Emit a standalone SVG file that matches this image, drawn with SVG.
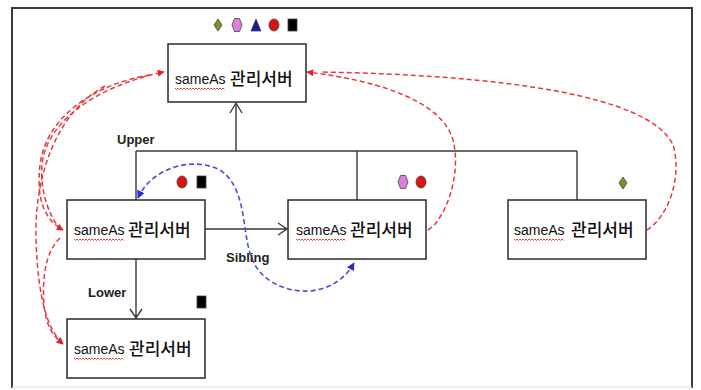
<svg xmlns="http://www.w3.org/2000/svg" xmlns:xlink="http://www.w3.org/1999/xlink" width="701" height="390" viewBox="0 0 701 390">
<style>
.box{fill:#fff;stroke:#2a2a2a;stroke-width:1.5}
.tree{fill:none;stroke:#3a3a3a;stroke-width:1.4}
.en{font-family:"Liberation Sans",Arial,sans-serif;font-size:14px;fill:#111}
.ko{font-family:"Noto Sans CJK KR","Noto Sans",sans-serif;font-size:17px;font-weight:500;fill:#111}
.lbl{font-family:"Liberation Sans",Arial,sans-serif;font-size:13px;font-weight:bold;fill:#222}
.red{fill:none;stroke:#e8383c;stroke-width:1.5;stroke-dasharray:5 3}
.blue{fill:none;stroke:#4a4ae0;stroke-width:1.6;stroke-dasharray:5 3}
.wave{fill:none;stroke:#e03030;stroke-width:0.9}
</style>
<defs>
<marker id="ar" viewBox="0 0 10 10" refX="9" refY="5" markerWidth="7" markerHeight="7" markerUnits="userSpaceOnUse" orient="auto-start-reverse"><path d="M0,0 L10,5 L0,10 z" fill="#e8202a"/></marker>
<marker id="ab" viewBox="0 0 10 10" refX="9" refY="5" markerWidth="8" markerHeight="8" markerUnits="userSpaceOnUse" orient="auto-start-reverse"><path d="M0,0 L10,5 L0,10 z" fill="#2a2ad8"/></marker>
<path id="wv" class="wave" d="M0,0 l1.5,1.5 l1.5,-1.5 l1.5,1.5 l1.5,-1.5 l1.5,1.5 l1.5,-1.5 l1.5,1.5 l1.5,-1.5 l1.5,1.5 l1.5,-1.5 l1.5,1.5 l1.5,-1.5 l1.5,1.5 l1.5,-1.5 l1.5,1.5 l1.5,-1.5 l1.5,1.5 l1.5,-1.5 l1.5,1.5 l1.5,-1.5 l1.5,1.5 l1.5,-1.5 l1.5,1.5 l1.5,-1.5 l1.5,1.5 l1.5,-1.5 l1.5,1.5 l1.5,-1.5 l1.5,1.5 l1.5,-1.5 l1.5,1.5 l1.5,-1.5 l1.5,1.5"/>
</defs>
<rect width="701" height="390" fill="#fff"/>
<g id="frame">
<path d="M12,388 L12,8 L692,8 L692,388" fill="none" stroke="#3a3a3a" stroke-width="2"/>
<line x1="12" y1="387" x2="692" y2="387" stroke="#dcdcdc" stroke-width="1"/>
</g>
<g id="connectors">
<path class="tree" d="M236,104 L236,151 M136,151 L577,151 M136,151 L136,200 M357,151 L357,200 M577,151 L577,200"/>
<path class="tree" d="M230,113 L236,103 L242,113"/>
<path class="tree" d="M205,229 L287,229 M278,223 L287,229 L278,235"/>
<path class="tree" d="M136,259 L136,318 M130,309 L136,318 L142,309"/>
<path class="red" d="M61,230 C48,215 40,190 42,165 C46,120 100,85 164,72" marker-end="url(#ar)"/>
<path class="red" d="M150,75 C90,85 45,120 40,165 C36,200 45,220 63,230" marker-end="url(#ar)"/>
<path class="red" d="M105,86 C60,110 34,170 36,240 C38,300 48,330 63,344" marker-end="url(#ar)"/>
<path class="red" d="M60,238 C45,252 42,280 44,305 C46,325 52,335 63,344" marker-end="url(#ar)"/>
<path class="red" d="M428,230 C445,220 462,175 453,140 C443,105 390,82 307,72" marker-end="url(#ar)"/>
<path class="red" d="M647,230 C670,215 682,175 673,145 C650,95 500,75 320,72"/>
<path class="blue" d="M138,198 C150,170 190,155 220,170 C250,190 240,240 255,265 C272,295 330,305 354,263" marker-start="url(#ab)" marker-end="url(#ab)"/>
</g>
<g id="node-top">
<rect class="box" x="168" y="44" width="138" height="58"/>
<text class="en" x="175" y="84">sameAs</text>
<use xlink:href="#wv" x="175" y="88"/>
<text class="ko" x="230" y="85">관리서버</text>
</g>
<g id="node-left">
<rect class="box" x="67" y="200" width="138" height="59"/>
<text class="en" x="74" y="235">sameAs</text>
<use xlink:href="#wv" x="74" y="239"/>
<text class="ko" x="128" y="236">관리서버</text>
</g>
<g id="node-middle">
<rect class="box" x="288" y="200" width="138" height="59"/>
<text class="en" x="296" y="235">sameAs</text>
<use xlink:href="#wv" x="296" y="239"/>
<text class="ko" x="350" y="236">관리서버</text>
</g>
<g id="node-right">
<rect class="box" x="508" y="200" width="138" height="59"/>
<text class="en" x="514" y="235">sameAs</text>
<use xlink:href="#wv" x="514" y="239"/>
<text class="ko" x="571" y="236">관리서버</text>
</g>
<g id="node-bottom">
<rect class="box" x="67" y="319" width="138" height="59"/>
<text class="en" x="74" y="354">sameAs</text>
<use xlink:href="#wv" x="74" y="358"/>
<text class="ko" x="129" y="355">관리서버</text>
</g>
<g id="labels">
<text class="lbl" x="117" y="144">Upper</text>
<text class="lbl" x="226" y="262">Sibling</text>
<text class="lbl" x="88" y="297">Lower</text>
</g>
<g id="markers-symbols" stroke="#444" stroke-width="0.8">
<polygon points="218,19 222,25 218,31 214,25" fill="#7f8f2a"/>
<polygon points="234.5,18.5 239.5,18.5 242,25 239.5,31.5 234.5,31.5 232,25" fill="#e07de0"/>
<polygon points="256,19 261,31 251,31" fill="#1a1aa8"/>
<ellipse cx="274" cy="25" rx="5" ry="6" fill="#dd1111"/>
<rect x="288" y="19" width="9" height="12" fill="#000"/>
<ellipse cx="182" cy="182" rx="5" ry="6" fill="#dd1111"/>
<rect x="197" y="176" width="9" height="12" fill="#000"/>
<polygon points="400.5,175.5 405.5,175.5 408,182 405.5,188.5 400.5,188.5 398,182" fill="#e07de0"/>
<ellipse cx="421" cy="182" rx="5" ry="6" fill="#dd1111"/>
<polygon points="623,177 627,183 623,189 619,183" fill="#7f8f2a"/>
<rect x="197" y="296" width="9" height="12" fill="#000"/>
</g>
</svg>
